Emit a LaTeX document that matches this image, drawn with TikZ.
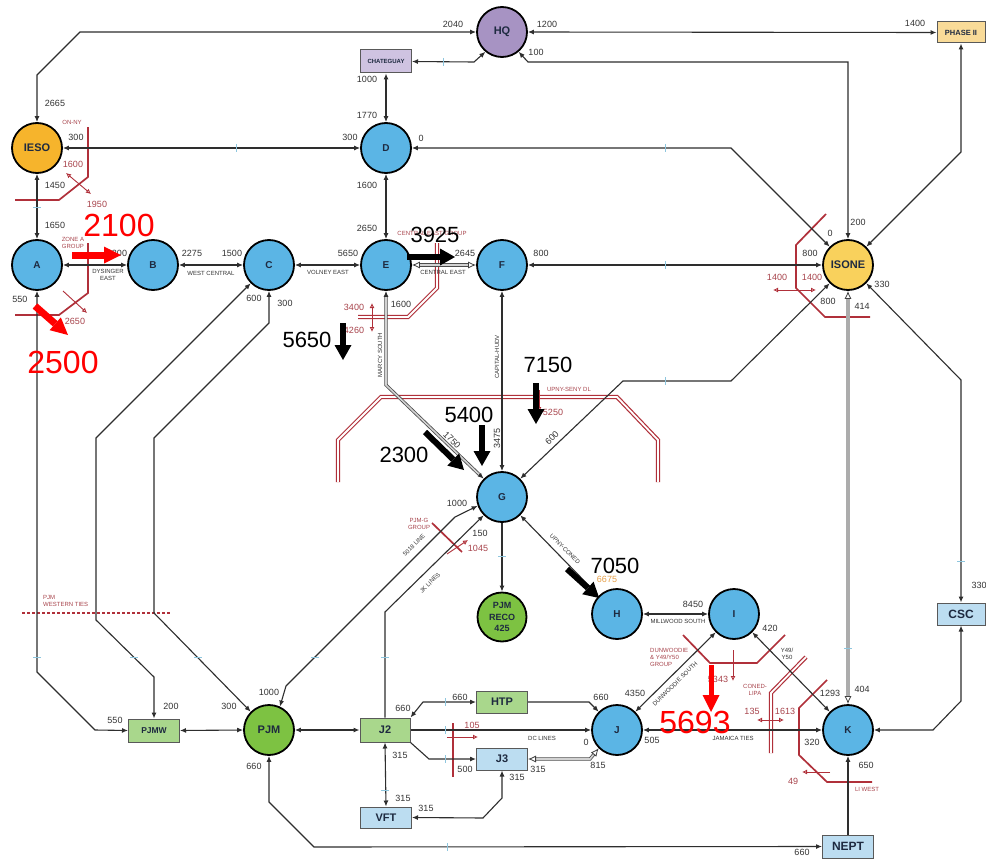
\documentclass[tikz,border=0pt]{standalone}
\usepackage{fontspec}
\setmainfont{Liberation Sans}
\usetikzlibrary{arrows.meta}
\definecolor{busblue}{HTML}{5BB5E5}
\definecolor{busgreen}{HTML}{7DC242}
\definecolor{iesoorange}{HTML}{F6B42C}
\definecolor{isoneyellow}{HTML}{F9D15C}
\definecolor{hqpurple}{HTML}{A793C3}
\definecolor{chpurple}{HTML}{CFC3E1}
\definecolor{phaseyellow}{HTML}{F9DB98}
\definecolor{boxgreen}{HTML}{A9D78C}
\definecolor{boxblue}{HTML}{BCDDF1}
\definecolor{linegray}{HTML}{2E2E2E}
\definecolor{txtgray}{HTML}{333333}
\definecolor{cutred}{HTML}{B0303A}
\definecolor{redtxt}{HTML}{A8444C}
\definecolor{tickblue}{HTML}{8EC6DE}
\definecolor{navy}{HTML}{1E2A40}
\definecolor{annorange}{HTML}{E6A04A}
\begin{document}
\begin{tikzpicture}[x=1pt,y=-1pt,>={Latex[length=6pt,width=5pt]},
  bus/.style={circle, draw=black, line width=1.8pt, minimum size=50pt, inner sep=0pt, fill=busblue, text=navy, font=\fontsize{10}{10}\selectfont\bfseries},
  sbox/.style={rectangle, draw=black!65, line width=1pt, inner sep=0pt, minimum width=51pt, minimum height=22pt, text=navy},
  con/.style={draw=linegray, line width=1.1pt},
  lbl/.style={font=\fontsize{9}{9}\selectfont, text=txtgray, inner sep=0pt},
  tlbl/.style={font=\fontsize{6}{6.8}\selectfont, text=txtgray, inner sep=0pt, align=center},
  rlbl/.style={font=\fontsize{6}{7}\selectfont, text=redtxt, inner sep=0pt, align=center},
  rnum/.style={font=\fontsize{9}{9}\selectfont, text=redtxt, inner sep=0pt},
  cut/.style={draw=cutred, line width=1.7pt},
  dcut/.style={draw=cutred, line width=1.2pt, double=white, double distance=1.8pt},
  rarr/.style={draw=cutred, line width=0.9pt, -{Latex[open,length=5pt,width=5pt]}},
  rarrb/.style={draw=cutred, line width=0.9pt, {Latex[open,length=5pt,width=5pt]}-{Latex[open,length=5pt,width=5pt]}},
  tick/.style={draw=tickblue, line width=0.9pt},
  dbl/.style={draw=black!70, line width=0.8pt, double=gray!35, double distance=1.6pt},
  ohead/.style={draw=black!75, line width=0.8pt, -{Latex[length=8pt,width=7pt,fill=white]}},
  shead/.style={draw=linegray, line width=1.1pt, -{Latex[length=6pt,width=5pt]}},
  bigk/.style={draw=black, line width=6pt, -{Triangle[length=15pt,width=17pt,line width=0pt]}},
  bigr/.style={draw=red, line width=7pt, -{Triangle[length=17pt,width=17pt,line width=0pt]}},
  bignum/.style={font=\fontsize{22}{22}\selectfont, text=black, inner sep=0pt},
  bigrnum/.style={font=\fontsize{32}{32}\selectfont, text=red, inner sep=0pt}
]
\useasboundingbox (0,0) rectangle (986,859);
\fill[white] (0,0) rectangle (986,859);

% ---------- red cut lines (interfaces) ----------
\draw[cut] (88,127) -- (88,177) -- (59,200) -- (15,200);
\draw[rarrb] (66,173) -- (91,194);
\draw[cut] (88,243) -- (88,293) -- (59,315) -- (15,315);
\draw[rarr] (63,291) -- (87,313);
\draw[dcut] (437,243) -- (437,288) -- (408,317) -- (358,317);
\draw[rarrb] (372,303) -- (372,332);
\draw[dcut] (338,482) -- (338,440) -- (381,397) -- (617,397) -- (658,440) -- (658,482);
\draw[rarr] (539,390) -- (539,412);
\draw[cut] (826,214) -- (796,245) -- (796,288) -- (825,317) -- (870,317);
\draw[rarrb] (773,290) -- (816,290);
\draw[cut] (432,523) -- (462,552);
\draw[rarr] (447,554) -- (468,540);
\draw[cut] (453,723) -- (453,777);
\draw[rarr] (447,737) -- (478,737);
\draw[cut] (683,635) -- (710,663) -- (757,663) -- (785,635);
\draw[rarr] (733,650) -- (733,681);
\draw[dcut] (806,657) -- (771,693) -- (771,753);
\draw[rarrb] (757,720) -- (784,720);
\draw[cut] (827,680) -- (799,708) -- (799,755) -- (827,782) -- (872,782);
\draw[rarr] (830,772) -- (802,772);
\draw[draw=cutred, line width=2pt, dash pattern=on 3pt off 2pt] (22,613) -- (170,613);

% ---------- nodes ----------
\node[bus, fill=hqpurple, font=\fontsize{11}{11}\selectfont\bfseries] (HQ) at (502,32) {HQ};
\node[bus, fill=iesoorange, font=\fontsize{11}{11}\selectfont\bfseries] (IESO) at (37,148) {IESO};
\node[bus] (D) at (386,148) {D};
\node[bus] (A) at (37,265) {A};
\node[bus] (B) at (153,265) {B};
\node[bus] (C) at (269,265) {C};
\node[bus] (E) at (386,265) {E};
\node[bus] (F) at (502,265) {F};
\node[bus, fill=isoneyellow, font=\fontsize{11}{11}\selectfont\bfseries] (ISONE) at (848,265) {ISONE};
\node[bus] (G) at (502,497) {G};
\node[bus, fill=busgreen, minimum size=49pt, align=center, font=\fontsize{9}{11.5}\selectfont\bfseries] (RECO) at (502,617) {PJM\\RECO\\425};
\node[bus] (H) at (617,614) {H};
\node[bus] (I) at (734,614) {I};
\node[bus] (J) at (617,730) {J};
\node[bus] (K) at (848,730) {K};
\node[bus, fill=busgreen, font=\fontsize{11}{11}\selectfont\bfseries] (PJM) at (269,730) {PJM};
\node[sbox, fill=phaseyellow, minimum width=48pt, minimum height=21pt, font=\fontsize{7.5}{8}\selectfont\bfseries] (PH) at (961,32.5) {PHASE II};
\node[sbox, fill=chpurple, minimum height=23pt, font=\fontsize{6}{6}\selectfont\bfseries] (CH) at (386,61.5) {CHATEGUAY};
\node[sbox, fill=boxgreen, minimum height=23pt, font=\fontsize{8.5}{9}\selectfont\bfseries] (PJMW) at (154,730.5) {PJMW};
\node[sbox, fill=boxgreen, minimum width=50pt, minimum height=24pt, font=\fontsize{11}{11}\selectfont\bfseries] (J2) at (385,730) {J2};
\node[sbox, fill=boxgreen, font=\fontsize{11}{11}\selectfont\bfseries] (HTP) at (502,702) {HTP};
\node[sbox, fill=boxblue, font=\fontsize{11}{11}\selectfont\bfseries] (J3) at (502,759) {J3};
\node[sbox, fill=boxblue, minimum height=21pt, font=\fontsize{11}{11}\selectfont\bfseries] (VFT) at (386,817.5) {VFT};
\node[sbox, fill=boxblue, minimum width=48pt, font=\fontsize{12}{12}\selectfont\bfseries] (CSC) at (961,614) {CSC};
\node[sbox, fill=boxblue, minimum height=23pt, font=\fontsize{12}{12}\selectfont\bfseries] (NEPT) at (848,846.5) {NEPT};

% ---------- connectors ----------
\draw[con,<->] (IESO.north) -- (37,75) -- (80,32) -- (HQ.west);
\draw[con,<->] (HQ.east) -- (PH.west);
\draw[con,<->] (HQ.-50) -- (528,62) -- (848,62) -- (ISONE.north);
\draw[con,<->] (CH.east) -- (474,62) -- (HQ.-130);
\draw[con,<->] (CH.south) -- (D.north);
\draw[con,<->] (IESO.east) -- (D.west);
\draw[con,<->] (D.east) -- (731,148) -- (ISONE.135);
\draw[con,<->] (D.south) -- (E.north);
\draw[con,<->] (IESO.south) -- (A.north);
\draw[con,<->] (A.east) -- (B.west);
\draw[con,<->] (B.east) -- (C.west);
\draw[con,<->] (C.east) -- (E.west);
\draw[con,<->] (F.east) -- (ISONE.west);
\draw[con,<->] (F.south) -- (G.north);
\draw[con,<->] (ISONE.-135) -- (731,381) -- (623,381) -- (G.45);
\draw[con,<->] (ISONE.-45) -- (961,380) -- (CSC.north);
\draw[con,<->] (ISONE.45) -- (961,152) -- (PH.south);
\draw[con,->] (G.south) -- (RECO.north);
\draw[con,<->] (G.-45) -- (H.135);
\draw[con,<->] (H.east) -- (I.west);
\draw[con,<->] (PJM.65) -- (286,686) -- (455,517) -- (G.-160);
\draw[con,->] (J2.north) -- (385,612) -- (G.-135);
\draw[con,<->] (PJMW.east) -- (PJM.west);
\draw[con,<->] (A.south) -- (37,672) -- (95,730) -- (PJMW.west);
\draw[con,<->] (C.-135) -- (96,438) -- (96,620) -- (154,677) -- (PJMW.north);
\draw[con,<->] (C.south) -- (269,323) -- (154,438) -- (154,613) -- (PJM.135);
\draw[con,<->] (PJM.east) -- (J2.west);
\draw[con,<->] (PJM.south) -- (269,802) -- (314,847) -- (NEPT.west);
\draw[con,<->] (HTP.west) -- (423,702) -- (J2.north east);
\draw[con,->] (HTP.east) -- (589,702) -- (J.135);
\draw[con,->] (J2.east) -- (J.west);
\draw[con,->] (J2.south east) -- (429,759) -- (J3.west);
\draw[con,<->] (J2.south) -- (VFT.north);
\draw[con,<->] (VFT.east) -- (483,818) -- (502,798) -- (J3.south);
\draw[con,<->] (J.45) -- (I.-135);
\draw[con,<->] (I.-45) -- (K.135);
\draw[con,<->] (J.east) -- (K.west);
\draw[con,<->] (K.east) -- (933,730) -- (961,701) -- (CSC.south);
\draw[con,->] (NEPT.north) -- (K.south);

% double / heavy lines
\draw[dbl] (419,265) -- (469,265);
\draw[ohead] (419,265) -- (E.east);
\draw[ohead] (469,265) -- (F.west);
\draw[dbl] (386,297) -- (386,385) -- (479.2,474.5);
\draw[shead] (386,297) -- (E.south);
\draw[shead] (479.2,474.5) -- (G.135);
\draw[draw=gray!65, line width=3.5pt] (848,298) -- (848,697);
\draw[ohead] (848,298) -- (ISONE.south);
\draw[ohead] (848,697) -- (K.north);
\draw[dbl] (535,759) -- (590,759) -- (594.2,753.9);
\draw[ohead] (535,759) -- (J3.east);
\draw[ohead] (594.2,753.9) -- (J.-135);

% blue ticks
\foreach \x/\y in {443/62, 236/148, 665/148, 665/265, 665/381, 445/702, 445/730, 445/759, 447/847}
  \draw[tick] (\x,\y-4) -- (\x,\y+4);
\foreach \x/\y in {37/207, 37/657, 134/657, 198/657, 315/657, 385/657, 385/790, 848/648, 961/561, 502/556}
  \draw[tick] (\x-4,\y) -- (\x+4,\y);

% ---------- number labels ----------
\foreach \x/\y/\t [count=\i] in {55/103/2665, 453/24/2040, 547/24/1200, 536/52/100, 915/23/1400, 367/79/1000, 367/115/1770, 76/137/300, 350/137/300, 421/138/0, 830/233/0, 858/222/200, 55/185/1450, 55/225/1650, 367/185/1600, 367/228/2650, 117/253/2300, 192/253/2275, 232/253/1500, 348/253/5650, 465/253/2645, 541/253/800, 810/253/800, 882/284/330, 20/299/550, 254/298/600, 285/303/300, 401/304/1600, 828/301/800, 862/306/414, 457/503/1000, 480/533/150, 693/604/8450, 770/628/420, 830/693/1293, 862/689/404, 812/742/320, 866/765/650, 802/852/660, 979/585/330, 171/706/200, 115/720/550, 229/706/300, 269/692/1000, 254/766/660, 460/697/660, 403/708/660, 465/769/500, 538/769/315, 517/777/315, 400/755/315, 403/798/315, 426/808/315, 601/697/660, 635/693/4350, 586/742/0, 598/765/815, 652/740/505}
  \node[lbl] (nl\i) at (\x,\y) {\t};
\foreach \x/\y/\t [count=\i] in {73/164/1600, 97/204/1950, 75/321/2650, 354/307/3400, 354/330/4260, 553/412/5250, 777/277/1400, 812/277/1400, 478/548/1045, 472/725/105, 718/679/5343, 752/711/135, 785/711/1613, 793/781/49}
  \node[rnum] (rl\i) at (\x,\y) {\t};

% ---------- text labels ----------
\node[tlbl] (t1) at (108,275) {DYSINGER\\EAST};
\node[rlbl] (t2) at (73,243) {ZONE A\\GROUP};
\node[rlbl] (t3) at (72,122) {ON-NY};
\node[tlbl] (t4) at (211,273) {WEST CENTRAL};
\node[tlbl] (t5) at (328,272) {VOLNEY EAST};
\node[tlbl] (t6) at (443,272) {CENTRAL EAST};
\node[rlbl] (t7) at (432,233) {CENTRAL EAST GROUP};
\node[rlbl] (t8) at (569,389) {UPNY-SENY DL};
\node[tlbl, rotate=90] (t9) at (380,355) {MARCY SOUTH};
\node[tlbl, rotate=90] (t10) at (497,357) {CAPITAL-HUDV};
\node[lbl, rotate=-45] (t11) at (452,440) {1750};
\node[lbl, rotate=90] (t12) at (497,438) {3475};
\node[lbl, rotate=45] (t13) at (552,438) {600};
\node[tlbl, rotate=45] (t14) at (414,545) {5018 LINE};
\node[tlbl, rotate=45] (t15) at (430,583) {JK LINES};
\node[tlbl, rotate=-45] (t16) at (565,549) {UPNY-CONED};
\node[tlbl, rotate=45] (t17) at (675,684) {DUNWOODIE SOUTH};
\node[rlbl] (t18) at (419,524) {PJM-G\\GROUP};
\node[tlbl] (t19) at (678,621) {MILLWOOD SOUTH};
\node[tlbl] (t20) at (787,654) {Y49/\\Y50};
\node[rlbl, align=left, anchor=west] (t21) at (650,657) {DUNWOODIE\\\& Y49/Y50\\GROUP};
\node[rlbl] (t22) at (755,690) {CONED-\\LIPA};
\node[tlbl] (t23) at (733,738) {JAMAICA TIES};
\node[rlbl] (t24) at (867,789) {LI WEST};
\node[rlbl, align=left, anchor=west] (t25) at (43,601) {PJM\\WESTERN TIES};
\node[tlbl] (t26) at (542,738) {DC LINES};
\node[font=\fontsize{9}{9}\selectfont, text=annorange, inner sep=0pt] (t27) at (607,579) {6675};

% ---------- overlay annotations ----------
\draw[bigr] (72,255) -- (121,255);
\node[bigrnum] (a1) at (119,225) {2100};
\draw[bigr] (35,306) -- (68,335);
\node[bigrnum] (a2) at (63,362) {2500};
\draw[bigk] (407,257) -- (455,257);
\node[bignum] (a3) at (435,235) {3925};
\draw[bigk] (343,323) -- (343,360);
\node[bignum] (a4) at (307,340) {5650};
\draw[bigk] (536,383) -- (536,424);
\node[bignum] (a5) at (548,365) {7150};
\draw[bigk] (482,425) -- (482,466);
\node[bignum] (a6) at (469,415) {5400};
\draw[bigk] (425,432) -- (464,470);
\node[bignum] (a7) at (404,455) {2300};
\draw[bigk] (567,569) -- (599,598);
\node[bignum] (a8) at (615,566) {7050};
\draw[bigr, line width=5pt] (711,665) -- (711,712);
\node[bigrnum] (a9) at (695,722) {5693};
\end{tikzpicture}
\end{document}
